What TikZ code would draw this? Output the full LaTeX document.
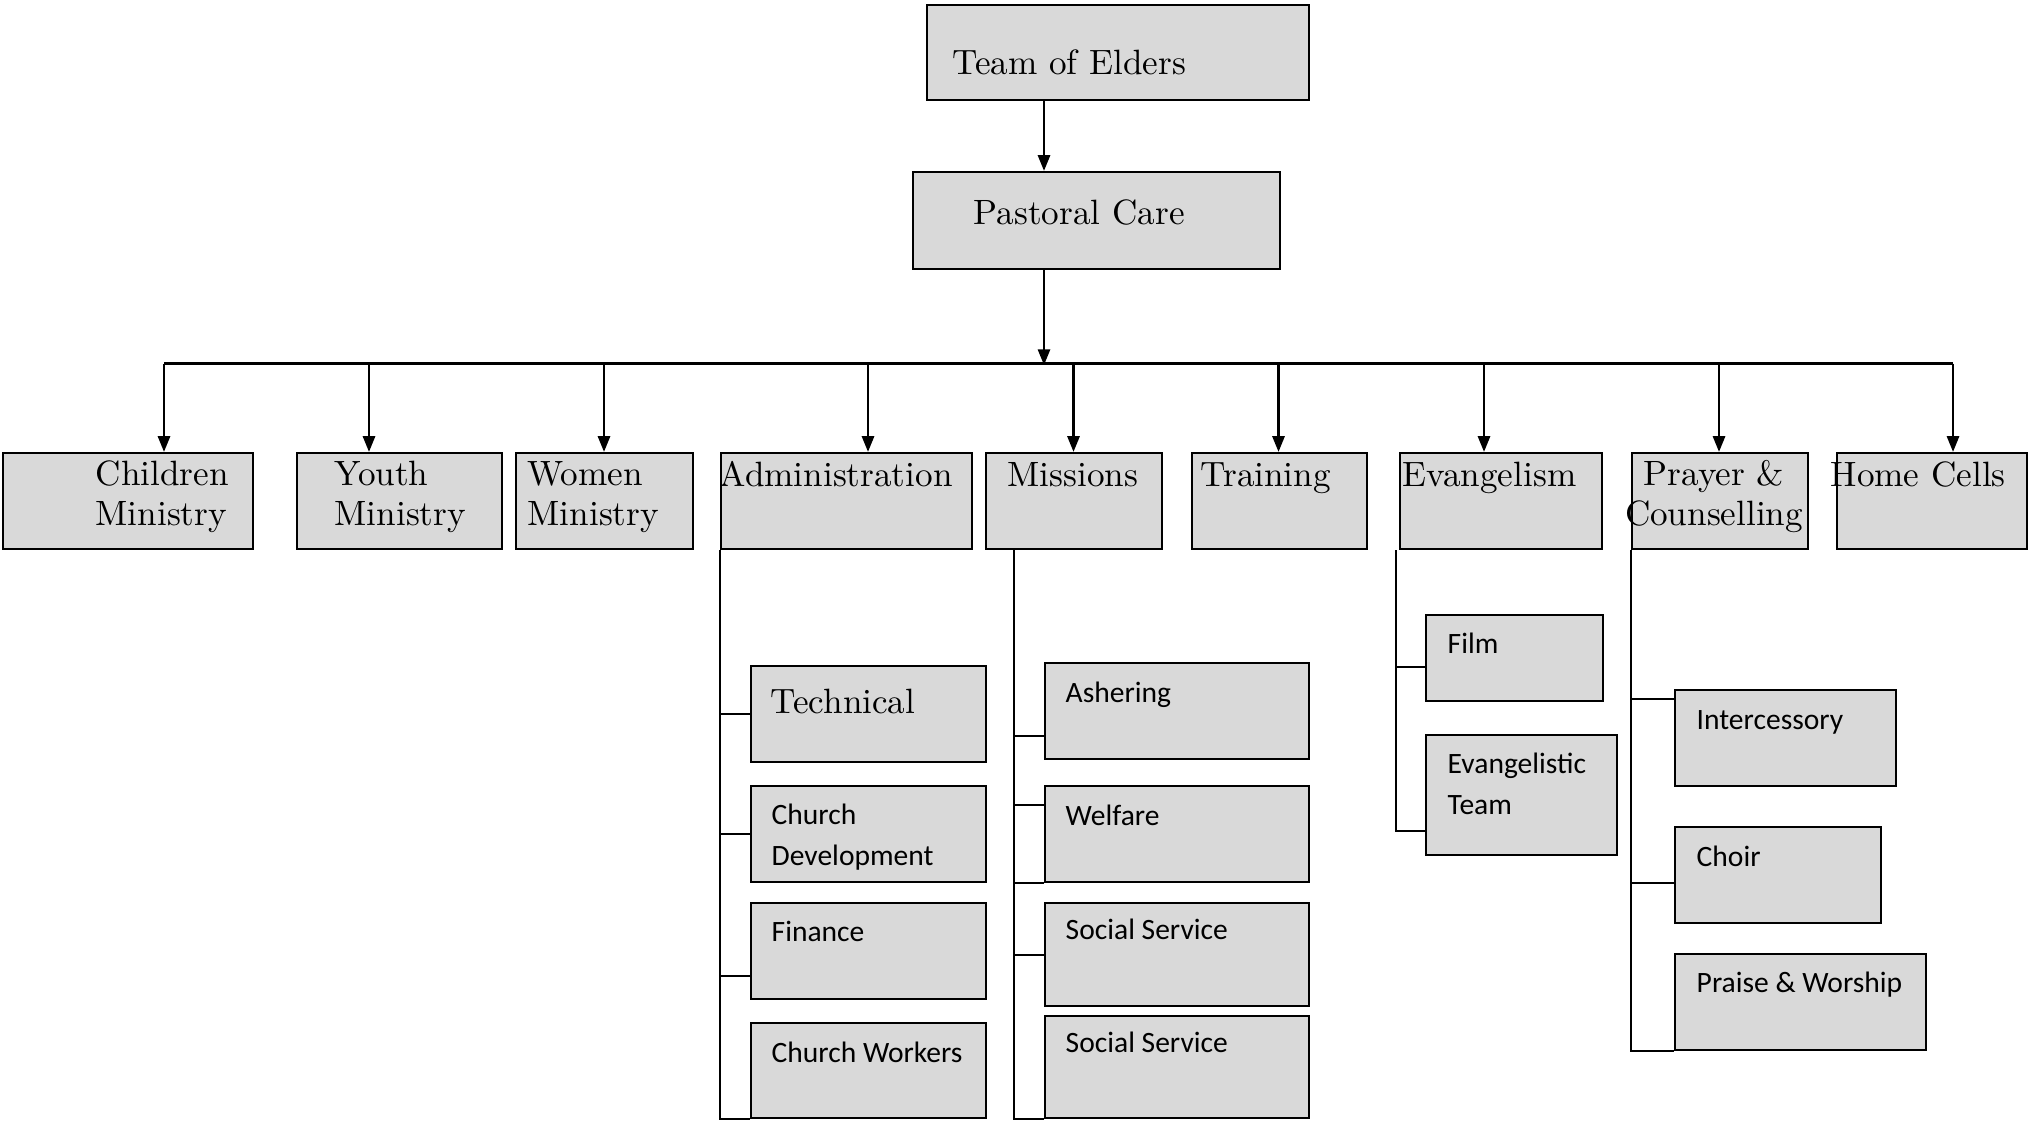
\documentclass[tikz,border=0pt]{standalone}
\usepackage{fontspec}
\newfontfamily\calfont{Carlito}
\usetikzlibrary{arrows.meta,calc}
\definecolor{boxgray}{RGB}{217,217,217}
\begin{document}
\begin{tikzpicture}[x=0.01cm,y=-0.01cm,
	box/.style={draw, fill=boxgray, line width=0.6pt, inner sep=0pt, anchor=north west},
	big/.style={inner sep=0pt, anchor=base west, align=left, font={\fontsize{10}{11.1}\selectfont}},
	small/.style={inner sep=0pt, anchor=base west, align=left, font={\calfont\fontsize{8.4}{11.6}\selectfont}},
	arr/.style={line width=0.8pt, -{Triangle[length=4.5pt,width=3.4pt]}},
	bus/.style={line width=0.8pt},
	tree/.style={line width=0.6pt}]
	\useasboundingbox (0,0) rectangle (2028,1120);
	% top
	\node[box, minimum width=3.82cm, minimum height=0.95cm] (elders) at (926,4) {};
	\node[box, minimum width=3.67cm, minimum height=0.97cm] (pastoral) at (912,171) {};
	\node[big] (elders-t) at (952,74) {Team of Elders};
	\node[big] (pastoral-t) at (973,224) {Pastoral Care};
	\coordinate (hub) at ($(pastoral.south west)+(132,95)$);
	\draw[arr] ($(elders.south west)+(118,0)$) -- ($(pastoral.north west)+(132,0)$);
	\draw[arr] ($(pastoral.south west)+(132,0)$) -- (hub);
	% departments
	\foreach \n/\xx/\w in {child/2/2.50, youth/296/2.05, women/515/1.77, admin/720/2.51, missions/985/1.76,
		training/1191/1.75, evangelism/1399/2.02, prayer/1631/1.76, homecells/1836/1.90}
		\node[box, minimum width=\w cm, minimum height=0.96cm] (\n) at (\xx,452) {};
	\draw[bus] ($(child.north west)+(162,-88.5)$) -- ($(homecells.north west)+(117,-88.5)$);
	\foreach \n/\dx in {child/162, youth/73, women/89, admin/148, missions/88.5,
		training/87.5, evangelism/85, prayer/88, homecells/117}
		\draw[arr] ($(\n.north west)+(\dx,-88.5)$) -- ($(\n.north west)+(\dx,0)$);
	% two-line texts sit on their last line
	\node[big] (child-t) at (95,525) {Children\\Ministry};
	\node[big] (youth-t) at (334,525) {Youth\\Ministry};
	\node[big] (women-t) at (527,525) {Women\\Ministry};
	\node[big] (admin-t) at (719,486) {Administration};
	\node[big] (missions-t) at (1007,486) {Missions};
	\node[big] (training-t) at (1200,486) {Training};
	\node[big] (evangelism-t) at (1402,486) {Evangelism};
	\node[big, anchor=base, align=center] (prayer-t) at (1714,525) {Prayer \&\\Counselling};
	\node[big] (homecells-t) at (1830,486) {Home Cells};
	% administration
	\node[box, minimum width=2.35cm, minimum height=0.96cm] (tech) at (750,665) {};
	\node[box, minimum width=2.35cm, minimum height=0.96cm] (chdev) at (750,785) {};
	\node[box, minimum width=2.35cm, minimum height=0.96cm] (finance) at (750,902) {};
	\node[box, minimum width=2.35cm, minimum height=0.95cm] (workers) at (750,1022) {};
	\node[big] (tech-t) at (770,713) {Technical};
	\node[small] (chdev-t) at (771,865) {Church\\Development};
	\node[small] (finance-t) at (771,941) {Finance};
	\node[small] (workers-t) at (771,1062) {Church Workers};
	\draw[tree] (admin.south west) |- (workers.south west);
	\draw[tree] (admin.south west |- tech.west) -- (tech.west);
	\draw[tree] (admin.south west |- chdev.west) -- (chdev.west);
	\draw[tree] ($(finance.south west)+(0,-24)$) -- ++(-30,0);
	% missions
	\node[box, minimum width=2.64cm, minimum height=0.96cm] (asher) at (1044,662) {};
	\node[box, minimum width=2.64cm, minimum height=0.96cm] (welfare) at (1044,785) {};
	\node[box, minimum width=2.64cm, minimum height=1.03cm] (social1) at (1044,902) {};
	\node[box, minimum width=2.64cm, minimum height=1.02cm] (social2) at (1044,1015) {};
	\node[small] (asher-t) at (1065,702) {Ashering};
	\node[small] (welfare-t) at (1065,825) {Welfare};
	\node[small] (social1-t) at (1065,939) {Social Service};
	\node[small] (social2-t) at (1065,1052) {Social Service};
	\coordinate (mtop) at ($(missions.south west)+(29,0)$);
	\draw[tree] (mtop) |- (social2.south west);
	\draw[tree] ($(asher.south west)+(0,-24)$) -- ++(-29,0);
	\draw[tree] ($(welfare.north west)+(0,20)$) -- ++(-29,0);
	\draw[tree] (welfare.south west) -- ++(-29,0);
	\draw[tree] (mtop |- social1.west) -- (social1.west);
	% evangelism
	\node[box, minimum width=1.77cm, minimum height=0.86cm] (film) at (1425,614) {};
	\node[box, minimum width=1.91cm, minimum height=1.20cm] (evteam) at (1425,734) {};
	\node[small] (film-t) at (1447,653) {Film};
	\node[small] (evteam-t) at (1447,814) {Evangelistic\\Team};
	\coordinate (etop) at ($(evangelism.south west)+(-3,0)$);
	\draw[tree] (etop) |- ($(evteam.south west)+(0,-25)$);
	\draw[tree] ($(film.south west)+(0,-35)$) -- ++(-29,0);
	% prayer
	\node[box, minimum width=2.21cm, minimum height=0.96cm] (inter) at (1674,689) {};
	\node[box, minimum width=2.06cm, minimum height=0.96cm] (choir) at (1674,826) {};
	\node[box, minimum width=2.51cm, minimum height=0.96cm] (praise) at (1674,953) {};
	\node[small] (inter-t) at (1696,729) {Intercessory};
	\node[small] (choir-t) at (1696,866) {Choir};
	\node[small] (praise-t) at (1696,992) {Praise \& Worship};
	\draw[tree] (prayer.south west) |- (praise.south west);
	\draw[tree] ($(inter.north west)+(0,10)$) -- ++(-43,0);
	\draw[tree] ($(choir.south west)+(0,-41)$) -- ++(-43,0);
\end{tikzpicture}
\end{document}
